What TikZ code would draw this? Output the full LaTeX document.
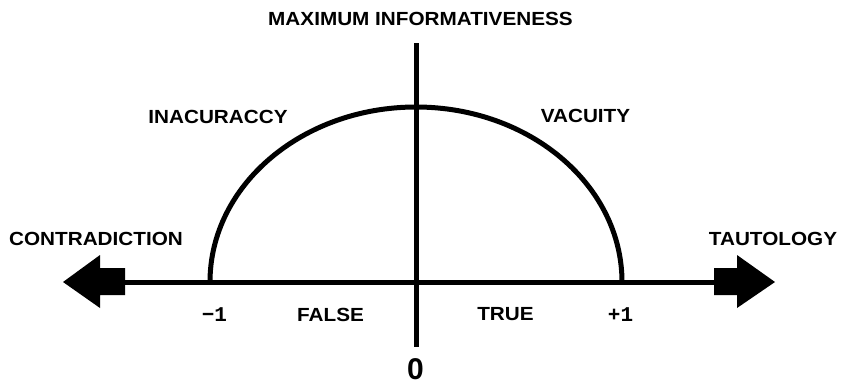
\documentclass[tikz,border=0pt]{standalone}
\usepackage{fontspec}
\setmainfont{Liberation Sans}
\newfontfamily\monofnt{Liberation Mono}
\begin{document}
\begin{tikzpicture}[x=1pt,y=-1pt,
  lab/.style={font=\bfseries\fontsize{19}{19}\selectfont, inner sep=0pt, anchor=center},
  num/.style={font=\monofnt\bfseries\fontsize{21}{21}\selectfont, inner sep=0pt, anchor=center},
  axisline/.style={line width=5pt, black},
  bigarrow/.style={fill=black, draw=none}]
\useasboundingbox (0,0) rectangle (841,384);
% coordinates
\coordinate (O) at (416,282);
\coordinate (L) at (125,282);
\coordinate (R) at (714,282);
\coordinate (T) at (416,43);
\coordinate (B) at (416,347);
% horizontal axis
\draw[axisline] (L) -- (R);
% arrowheads
\fill[bigarrow] (125,268) -- (100,268) -- (100,255) -- (63,282) -- (100,308) -- (100,295) -- (125,295) -- cycle;
\fill[bigarrow] (714,268) -- (737,268) -- (737,255) -- (775,282) -- (737,308) -- (737,295) -- (714,295) -- cycle;
% vertical axis
\draw[axisline] (T) -- (B);
% semi-ellipse
\draw[axisline] (210,282) arc[start angle=180, end angle=0, x radius=206, y radius=-175];
% labels
\node[lab] (max) at (420.5,19) {\scalebox{1.09}[1]{MAXIMUM INFORMATIVENESS}};
\node[lab] (inac) at (218,116.5) {\scalebox{1.09}[1]{INACURACCY}};
\node[lab] (vac) at (585.5,116) {\scalebox{1.09}[1]{VACUITY}};
\node[lab] (contra) at (96,238.5) {\scalebox{1.09}[1]{CONTRADICTION}};
\node[lab] (taut) at (773,238.5) {\scalebox{1.09}[1]{TAUTOLOGY}};
\node[lab] (false) at (330.5,314.5) {\scalebox{1.09}[1]{FALSE}};
\node[lab] (true) at (505.5,314.5) {\scalebox{1.09}[1]{TRUE}};
\node[num] (m1) at (214.5,314.5) {−1};
\node[num] (p1) at (620.5,314.5) {+1};
\node[font=\bfseries\fontsize{30}{30}\selectfont, inner sep=0pt] (zero) at (415.5,369) {0};
\end{tikzpicture}
\end{document}
